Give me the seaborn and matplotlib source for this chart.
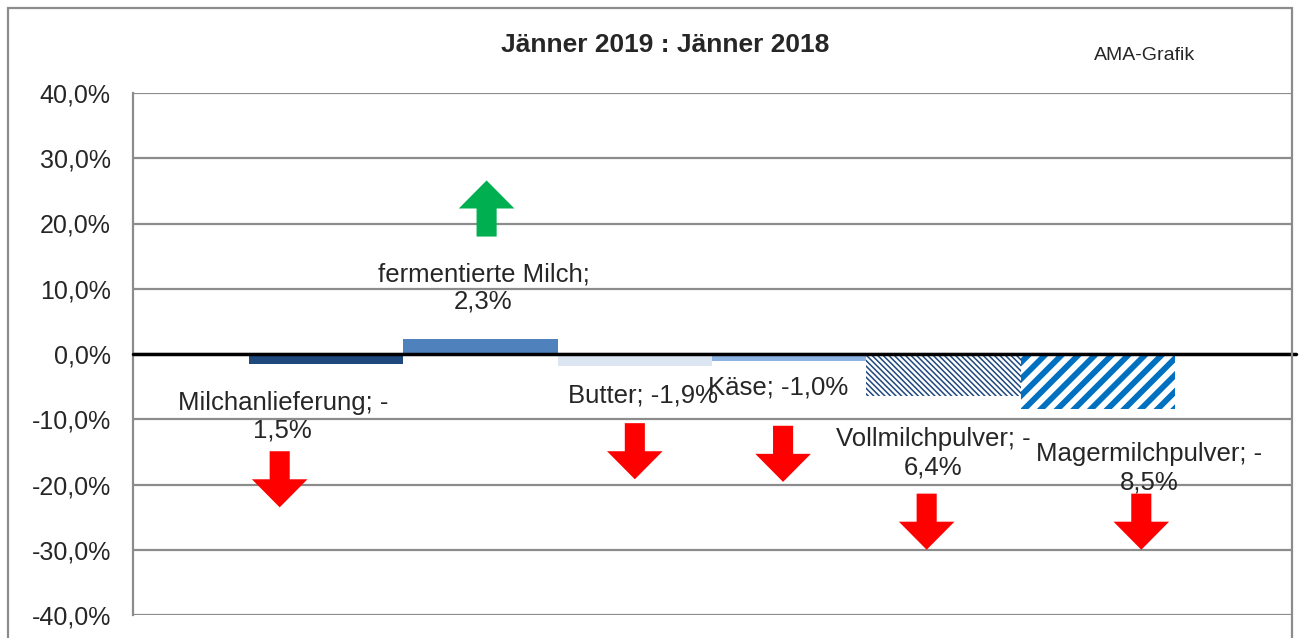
import matplotlib
matplotlib.use("Agg")
import matplotlib.pyplot as plt
import matplotlib.ticker as mticker
from matplotlib.patches import FancyArrow, Rectangle
import seaborn as sns

# data
categories = ["Milchanlieferung", "fermentierte Milch", "Butter", "Käse",
              "Vollmilchpulver", "Magermilchpulver"]
changes = [-1.5, 2.3, -1.9, -1.0, -6.4, -8.5]
label_texts = ["Milchanlieferung; -\n1,5%", "fermentierte Milch;\n2,3%", "Butter; -1,9%",
               "Käse; -1,0%", "Vollmilchpulver; -\n6,4%", "Magermilchpulver; -\n8,5%"]
bar_colors = ["#1F497D", "#4F81BD", "#DCE6F2", "#8DB4E2", "#FFFFFF", "#FFFFFF"]
y_ticks = [-40, -30, -20, -10, 0, 10, 20, 30, 40]

# layout of labels and arrows (offsets from the category centre)
label_pos = [(-0.28, -9.6), (0.02, 10.1), (0.05, -6.3), (-0.07, -5.1), (-0.07, -15.2), (0.33, -17.5)]
arrow_pos = [(-0.30, -14.9), (0.04, 18.0), (0.0, -10.6), (-0.04, -11.0), (-0.11, -21.4), (0.28, -21.4)]

sns.set_style("white")
plt.rcParams["font.family"] = ["Liberation Sans", "DejaVu Sans"]

fig = plt.figure(figsize=(13.08, 6.38), dpi=100)
ax = fig.add_axes([133 / 1308, 23 / 638, 1159 / 1308, 522 / 638])

sns.barplot(x=categories, y=changes, hue=categories, palette=bar_colors, width=1.0,
            saturation=1, legend=False, ax=ax, zorder=3)

# patterned bars for the milk powders
hatch_style = {4: ("#1F497D", "\\" * 6, 1.1), 5: ("#0070C0", "//", 4.2)}
for i, cont in enumerate(ax.containers):
    for p in cont:
        p.set_linewidth(0)
        if i in hatch_style:
            col, h, lw = hatch_style[i]
            p.set_edgecolor(col)
            p.set_hatch(h)
            if hasattr(p, "set_hatch_linewidth"):
                p.set_hatch_linewidth(lw)

ax.set_ylim(-40, 40)
ax.set_xlim(-1.25, 6.256)
ax.set_yticks(y_ticks)
ax.yaxis.set_major_formatter(mticker.FuncFormatter(lambda v, _: f"{v:.1f}%".replace(".", ",")))
ax.tick_params(axis="y", length=0, pad=16, labelsize=18)
ax.set_xticks([])
ax.set_xlabel("")
ax.set_ylabel("")

for t in y_ticks:
    ax.axhline(t, color="#8C8C8C", lw=1.6, zorder=1)
ax.axhline(0, color="black", lw=2.5, xmax=1.0035, clip_on=False, zorder=4)

for side in ["top", "right", "bottom"]:
    ax.spines[side].set_visible(False)
ax.spines["left"].set_color("#8C8C8C")
ax.spines["left"].set_linewidth(1.6)

# data labels
for i, (txt, (dx, y)) in enumerate(zip(label_texts, label_pos)):
    ax.text(i + dx, y, txt, ha="center", va="center", fontsize=18.5, linespacing=1.2, zorder=5)

# up/down arrows
for i, (val, (dx, y0)) in enumerate(zip(changes, arrow_pos)):
    length = 8.6 if val > 0 else -8.6
    col = "#00B050" if val > 0 else "#FF0000"
    ax.add_patch(FancyArrow(i + dx, y0, 0, length, width=0.13, head_width=0.36,
                            head_length=4.3, length_includes_head=True,
                            color=col, lw=0, zorder=5))

fig.text(665 / 1308, 1 - 45 / 638, "Jänner 2019 : Jänner 2018", ha="center", va="center",
         fontsize=19, fontweight="bold")
fig.text(1145 / 1308, 1 - 55 / 638, "AMA-Grafik", ha="center", va="center", fontsize=14)

# outer chart border
fig.add_artist(Rectangle((8 / 1308, -0.05), 1284 / 1308, 1.05 - 8 / 638, transform=fig.transFigure,
                         fill=False, edgecolor="#8C8C8C", lw=1.6))

fig.savefig("out.png", dpi=100)
